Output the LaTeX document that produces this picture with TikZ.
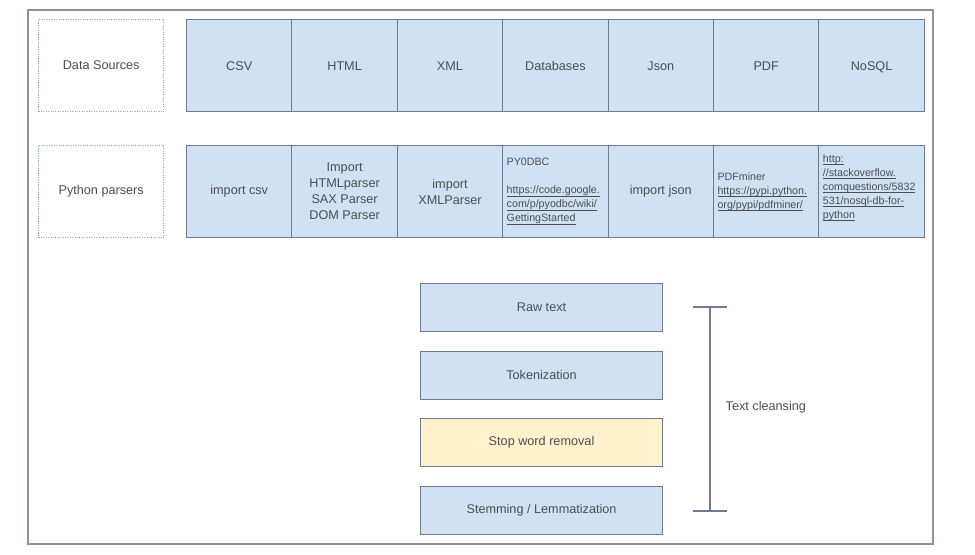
\documentclass[tikz,border=0pt]{standalone}
\usepackage{fontspec}
\setmainfont{Liberation Sans}
\definecolor{cellblue}{RGB}{207,225,242}
\definecolor{cellyellow}{RGB}{255,242,204}
\definecolor{edge}{RGB}{110,122,145}
\definecolor{frame}{RGB}{140,145,155}
\definecolor{ink}{RGB}{75,78,85}
\definecolor{dots}{RGB}{140,165,200}
\newcommand{\lnk}[1]{\underline{\smash{#1}}}
\begin{document}
\begin{tikzpicture}[x=0.75pt,y=-0.75pt,font=\fontsize{9.5}{12}\selectfont,text=ink,
  cell/.style={draw=edge,line width=0.8pt,fill=cellblue,anchor=north west,inner sep=0pt,
    minimum width=79pt,minimum height=69pt,align=center},
  linkcell/.style={cell,align=left,text width=73pt,inner xsep=3pt,
    font=\fontsize{8}{10.5}\selectfont},
  label/.style={draw=dots,densely dotted,line width=0.8pt,anchor=north west,
    minimum width=94pt,minimum height=69pt,inner sep=0pt},
  stage/.style={draw=edge,line width=0.8pt,fill=cellblue,anchor=north west,
    minimum width=181.5pt,minimum height=36pt,inner sep=0pt}]
\useasboundingbox (0,0) rectangle (975,554);
\draw[frame,line width=1pt] (28,10) rectangle (933,544);
% row labels
\node[label] (sources) at (38,19) {Data Sources};
\node[label] (parsers) at (38,145) {Python parsers};
% data sources
\foreach \name [count=\i from 0] in {CSV,HTML,XML,Databases,Json,PDF,NoSQL}
  \node[cell,text height=7pt,text depth=0pt] (src\i) at (186+105.4*\i,19) {\name};
% parsers
\node[cell] (csv) at (186,145) {import csv};
\node[cell] (html) at (291.4,145) {Import\\HTMLparser\\SAX Parser\\DOM Parser};
\node[cell] (xml) at (396.8,145) {import\\XMLParser};
\node[linkcell] (odbc) at (502.2,145) {PY0DBC\\[10.5pt]\lnk{https://code.google.}\\\lnk{com/p/pyodbc/wiki/}\\\lnk{GettingStarted}};
\node[cell] (json) at (607.6,145) {import json};
\node[linkcell] (pdf) at (713,145) {PDFminer\\\lnk{https://pypi.python.}\\\lnk{org/pypi/pdfminer/}};
\node[linkcell] (nosql) at (818.4,145) {\lnk{http:}\\\lnk{//stackoverflow.}\\\lnk{comquestions/5832}\\\lnk{531/nosql-db-for-}\\\lnk{python}};
% cleansing steps
\node[stage] (raw) at (420,283) {Raw text};
\node[stage] (token) at (420,350.5) {Tokenization};
\node[stage,fill=cellyellow] (stop) at (420,418) {Stop word removal};
\node[stage] (stem) at (420,486) {Stemming / Lemmatization};
% bracket
\coordinate (top) at (710,307);
\coordinate (bot) at (710,511);
\draw[edge,line width=1.2pt] (top) -- (bot);
\draw[edge,line width=1.2pt] ([xshift=-12.75pt]top) -- ([xshift=12.75pt]top);
\draw[edge,line width=1.2pt] ([xshift=-12.75pt]bot) -- ([xshift=12.75pt]bot);
\node[anchor=west] (clean) at (721,407) {Text cleansing};
\end{tikzpicture}
\end{document}
